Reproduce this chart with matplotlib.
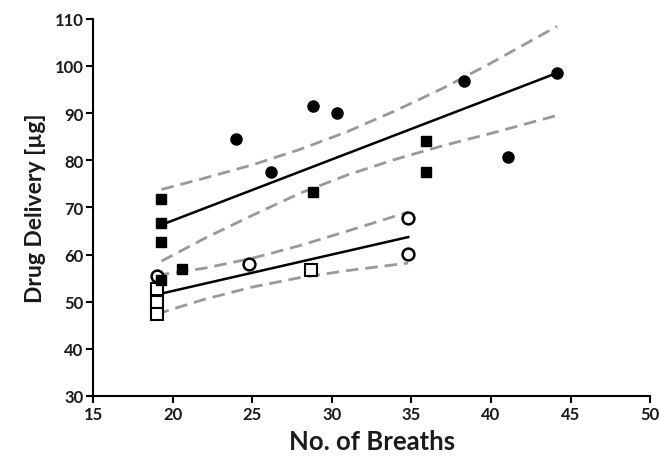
import numpy as np
import matplotlib
matplotlib.use("Agg")
import matplotlib.pyplot as plt

plt.rcParams['font.family'] = ['Lato', 'DejaVu Sans']

# Upper group (filled markers)
fc_x = [24.0, 26.2, 28.8, 30.3, 38.3, 41.1, 44.15]
fc_y = [84.5, 77.5, 91.5, 90.1, 96.9, 80.6, 98.5]
fs_x = [19.3, 19.3, 19.3, 20.6, 19.3, 28.8, 35.9, 35.9]
fs_y = [71.8, 66.6, 62.6, 56.9, 54.5, 73.2, 84.1, 77.5]

# Lower group (open markers)
oc_x = [19.0, 24.8, 34.8, 34.8]
oc_y = [55.4, 58.0, 67.8, 60.1]
os_x = [19.0, 19.0, 19.0, 28.7]
os_y = [52.7, 49.9, 47.4, 56.7]

# Regression lines and 95% confidence bands
up_fit_x = [19.3, 44.15]
up_fit_y = [66.3, 98.5]
up_band_x = [19.3, 22, 25, 28, 31, 34, 37, 40, 44.15]
up_band_hi = [73.8, 76.2, 79.0, 82.3, 86.1, 90.5, 95.3, 100.6, 108.4]
up_band_lo = [58.6, 63.4, 68.3, 73.0, 76.9, 80.2, 83.1, 85.7, 89.5]

lo_fit_x = [19.0, 34.8]
lo_fit_y = [51.5, 63.7]
lo_band_x = [19.0, 22, 25, 28, 31, 34.8]
lo_band_hi = [55.6, 57.1, 59.2, 61.9, 65.0, 69.0]
lo_band_lo = [47.4, 50.5, 53.1, 55.1, 56.6, 58.2]

xticks = [15, 20, 25, 30, 35, 40, 45, 50]
yticks = [30, 40, 50, 60, 70, 80, 90, 100, 110]

fig = plt.figure(figsize=(6.6, 4.6), dpi=100)
ax = fig.add_axes([0.141, 0.137, 0.844, 0.820])

dash_kw = dict(color='#999999', lw=2.0, dashes=(4.5, 2.5), zorder=1)
line_kw = dict(color='black', lw=1.8, zorder=2)

ax.plot(up_band_x, up_band_hi, **dash_kw)
ax.plot(up_band_x, up_band_lo, **dash_kw)
ax.plot(up_fit_x, up_fit_y, **line_kw)

ax.plot(lo_band_x, lo_band_hi, **dash_kw)
ax.plot(lo_band_x, lo_band_lo, **dash_kw)
ax.plot(lo_fit_x, lo_fit_y, **line_kw)

ax.plot(os_x, os_y, 's', ms=8, mfc='white', mec='black', mew=1.5, ls='none', zorder=3)
ax.plot(oc_x, oc_y, 'o', ms=8.5, mfc='white', mec='black', mew=1.8, ls='none', zorder=3)
ax.plot(fs_x, fs_y, 's', ms=7.8, mfc='black', mec='black', ls='none', zorder=4)
ax.plot(fc_x, fc_y, 'o', ms=8, mfc='black', mec='black', ls='none', zorder=4)

ax.set_xlim(15, 50)
ax.set_ylim(30, 110)
ax.set_xticks(xticks)
ax.set_yticks(yticks)
ax.tick_params(axis='both', direction='out', length=5, width=1.5, labelsize=12, pad=2)
for lab in ax.get_xticklabels() + ax.get_yticklabels():
    lab.set_fontweight('bold')
    lab.set_color('#1a1a1a')
for side in ['top', 'right']:
    ax.spines[side].set_visible(False)
for side in ['left', 'bottom']:
    ax.spines[side].set_linewidth(1.5)
ax.set_xlabel('No. of Breaths', fontsize=18.5, fontweight='bold', labelpad=5, color='#1a1a1a')
ax.set_ylabel('Drug Delivery [µg]', fontsize=16.5, fontweight='bold', labelpad=6, color='#1a1a1a')

fig.savefig('out.png', dpi=100)
